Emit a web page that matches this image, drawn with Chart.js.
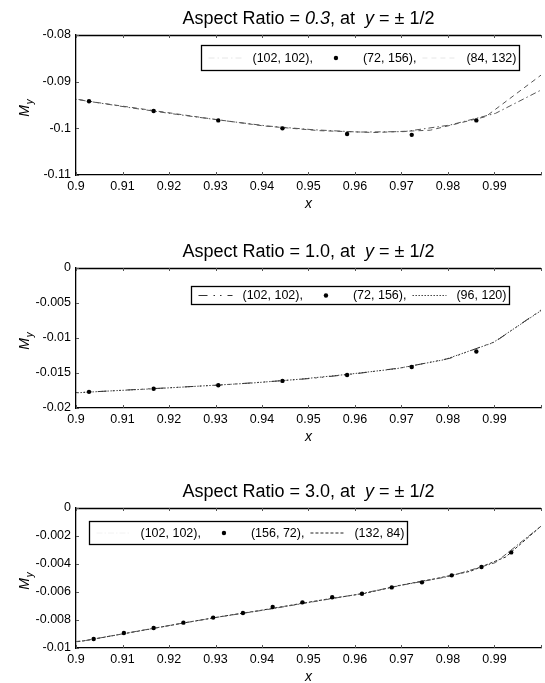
<!DOCTYPE html>
<html>
<head>
<meta charset="utf-8">
<script src="https://cdn.jsdelivr.net/npm/chart.js@4.4.1/dist/chart.umd.min.js"></script>
<style>
  html, body { margin: 0; padding: 0; background: #fff; overflow: hidden; }
  #wrap { position: relative; width: 545px; height: 683px; }
  canvas { position: absolute; left: 0; }
</style>
</head>
<body>
<div id="wrap">
  <canvas id="c1" width="545" height="214" style="top:0px"></canvas>
  <canvas id="c2" width="545" height="214" style="top:233px"></canvas>
  <canvas id="c3" width="545" height="214" style="top:473px"></canvas>
</div>
<script>
/* ---- shared axis data ---- */
const xTicks = [0.9, 0.91, 0.92, 0.93, 0.94, 0.95, 0.96, 0.97, 0.98, 0.99, 1.0];
const xTickLabels = ['0.9', '0.91', '0.92', '0.93', '0.94', '0.95', '0.96', '0.97', '0.98', '0.99', ''];

/* ---- panel 1: aspect ratio 0.3 ---- */
const title1 = [['Aspect Ratio = ', 'normal'], ['0.3', 'italic'], [', at  ', 'normal'], ['y', 'italic'], [' = \u00b1 1/2', 'normal']];
const yTicks1 = [-0.11, -0.1, -0.09, -0.08];
const yTickLabels1 = ['-0.11', '-0.1', '-0.09', '-0.08'];
const labels1 = ['(102, 102),', '(72, 156),', '(84, 132)'];
const p1xA = [0.8922, 0.9020, 0.9118, 0.9216, 0.9314, 0.9412, 0.9510, 0.9608, 0.9706, 0.9804, 0.9902, 1.0];
const p1yA = [-0.0925, -0.0941, -0.0956, -0.0970, -0.0983, -0.0995, -0.1003, -0.1008, -0.1007, -0.0993, -0.0968, -0.0918];
const p1xB = [0.9028, 0.9167, 0.9306, 0.9444, 0.9583, 0.9722, 0.9861];
const p1yB = [-0.0942, -0.0963, -0.0983, -0.1000, -0.1012, -0.1014, -0.0983];
const p1xC = [0.8929, 0.9048, 0.9167, 0.9286, 0.9405, 0.9524, 0.9643, 0.9762, 0.9881, 1.0];
const p1yC = [-0.0926, -0.0945, -0.0962, -0.0979, -0.0995, -0.1005, -0.1009, -0.1004, -0.0975, -0.0886];

/* ---- panel 2: aspect ratio 1.0 ---- */
const title2 = [['Aspect Ratio = 1.0, at  ', 'normal'], ['y', 'italic'], [' = \u00b1 1/2', 'normal']];
const yTicks2 = [-0.02, -0.015, -0.01, -0.005, 0];
const yTickLabels2 = ['-0.02', '-0.015', '-0.01', '-0.005', '0'];
const labels2 = ['(102, 102),', '(72, 156),', '(96, 120)'];
const p2xA = [0.8922, 0.9020, 0.9118, 0.9216, 0.9314, 0.9412, 0.9510, 0.9608, 0.9706, 0.9804, 0.9902, 1.0];
const p2yA = [-0.0180, -0.01775, -0.0174, -0.01705, -0.0167, -0.01625, -0.01575, -0.01505, -0.0142, -0.0129, -0.0105, -0.0060];
const p2xB = [0.9028, 0.9167, 0.9306, 0.9444, 0.9583, 0.9722, 0.9861];
const p2yB = [-0.01769, -0.01726, -0.01675, -0.01613, -0.01528, -0.01415, -0.01193];
const p2xC = [0.8958, 0.90625, 0.9167, 0.9271, 0.9375, 0.9479, 0.9583, 0.96875, 0.9792, 0.9896, 1.0];
const p2yC = [-0.0180, -0.0176, -0.01725, -0.01685, -0.01645, -0.0159, -0.0152, -0.0144, -0.0131, -0.0107, -0.0061];

/* ---- panel 3: aspect ratio 3.0 ---- */
const title3 = [['Aspect Ratio = 3.0, at  ', 'normal'], ['y', 'italic'], [' = \u00b1 1/2', 'normal']];
const yTicks3 = [-0.01, -0.008, -0.006, -0.004, -0.002, 0];
const yTickLabels3 = ['-0.01', '-0.008', '-0.006', '-0.004', '-0.002', '0'];
const labels3 = ['(102, 102),', '(156, 72),', '(132, 84)'];
const p3xA = [0.8922, 0.9020, 0.9118, 0.9216, 0.9314, 0.9412, 0.9510, 0.9608, 0.9706, 0.9804, 0.9902, 1.0];
const p3yA = [-0.0098, -0.00947, -0.00888, -0.0083, -0.00775, -0.00725, -0.0067, -0.00615, -0.00548, -0.00488, -0.0039, -0.0013];
const p3xB = [0.9038, 0.9103, 0.9167, 0.9231, 0.9295, 0.9359, 0.9423, 0.9487, 0.9551, 0.9615, 0.9679, 0.9744, 0.9808, 0.9872, 0.9936];
const p3yB = [-0.00936, -0.00893, -0.00857, -0.00819, -0.00783, -0.0075, -0.00707, -0.00674, -0.00638, -0.00612, -0.00567, -0.00531, -0.00481, -0.00421, -0.00317];
const p3xC = [0.8939, 0.9015, 0.9091, 0.9167, 0.9242, 0.9318, 0.9394, 0.9470, 0.9545, 0.9621, 0.9697, 0.9773, 0.9848, 0.9924, 1.0];
const p3yC = [-0.0098, -0.0095, -0.00905, -0.0086, -0.00815, -0.00772, -0.00733, -0.0069, -0.00648, -0.0061, -0.00552, -0.00505, -0.00452, -0.0035, -0.0013];

/* ---- drawing helpers ---- */
const FONT = "'Liberation Sans', Arial, Helvetica, sans-serif";
const LEG = { padL: 5, sample: 38, gap: 8, trail: 4, padR: 3, font: 12.5 };

const pts = (xs, ys) => xs.map((x, i) => ({ x, y: ys[i] }));

function lineSet(label, xs, ys, color, dash, sampleColor) {
  return {
    label, data: pts(xs, ys), showLine: true, borderColor: color, borderWidth: 1,
    borderDash: dash, pointRadius: 0, order: 1, sampleColor,
  };
}

function dotSet(label, xs, ys) {
  return {
    label, data: pts(xs, ys), showLine: false, pointRadius: 2.2,
    pointBackgroundColor: '#000', pointBorderWidth: 0, order: 0,
  };
}

function drawTitle(chart, segs) {
  const { ctx, chartArea: a } = chart;
  ctx.save();
  ctx.fillStyle = '#000';
  ctx.textBaseline = 'alphabetic';
  ctx.textAlign = 'left';
  const widths = segs.map(([t, st]) => { ctx.font = `${st} 18px ${FONT}`; return ctx.measureText(t).width; });
  const total = widths.reduce((s, w) => s + w, 0);
  let cx = (a.left + a.right) / 2 - total / 2;
  segs.forEach(([t, st], i) => {
    ctx.font = `${st} 18px ${FONT}`;
    ctx.fillText(t, cx, a.top - 11);
    cx += widths[i];
  });
  ctx.restore();
}

function drawYLabel(chart) {
  const { ctx, chartArea: a } = chart;
  ctx.save();
  ctx.translate(28.5, (a.top + a.bottom) / 2 + 3);
  ctx.rotate(-Math.PI / 2);
  ctx.fillStyle = '#000';
  ctx.textBaseline = 'alphabetic';
  ctx.font = `italic 14px ${FONT}`;
  const wM = ctx.measureText('M').width;
  ctx.font = `italic 10px ${FONT}`;
  const wy = ctx.measureText('y').width;
  const sx = -(wM + 1 + wy) / 2;
  ctx.font = `italic 14px ${FONT}`;
  ctx.fillText('M', sx, 0);
  ctx.font = `italic 10px ${FONT}`;
  ctx.fillText('y', sx + wM + 1, 4);
  ctx.restore();
}

function drawLegend(chart, box) {
  const { ctx, scales: { x, y } } = chart;
  const left = Math.round(x.getPixelForValue(box.x)) + 0.5;
  const top = Math.round(y.getPixelForValue(box.top)) + 0.5;
  const bottom = Math.round(y.getPixelForValue(box.bottom)) + 0.5;
  ctx.save();
  ctx.font = `${LEG.font}px ${FONT}`;
  const items = chart.data.datasets.map(ds => ({ ds, w: ctx.measureText(ds.label).width }));
  const width = LEG.padL + LEG.padR + LEG.trail * (items.length - 1) +
    items.reduce((s, it) => s + LEG.sample + LEG.gap + it.w, 0);
  ctx.fillStyle = '#fff';
  ctx.fillRect(left, top, width, bottom - top);
  ctx.strokeStyle = '#000';
  ctx.lineWidth = 1.3;
  ctx.strokeRect(left, top, width, bottom - top);
  const cy = (top + bottom) / 2;
  let cx = left + LEG.padL;
  items.forEach(({ ds, w }) => {
    if (ds.showLine) {
      ctx.strokeStyle = ds.sampleColor || ds.borderColor;
      ctx.lineWidth = ds.borderWidth;
      ctx.setLineDash(ds.borderDash || []);
      ctx.beginPath();
      ctx.moveTo(cx + 2, cy);
      ctx.lineTo(cx + LEG.sample - 2, cy);
      ctx.stroke();
      ctx.setLineDash([]);
    } else {
      ctx.fillStyle = '#000';
      ctx.beginPath();
      ctx.arc(cx + LEG.sample / 2, cy, ds.pointRadius, 0, 2 * Math.PI);
      ctx.fill();
    }
    cx += LEG.sample + LEG.gap;
    ctx.fillStyle = '#000';
    ctx.textBaseline = 'middle';
    ctx.fillText(ds.label, cx, cy + 0.5);
    cx += w + LEG.trail;
  });
  ctx.restore();
}

function framePlugin(cfg) {
  return {
    id: 'frame',
    beforeDatasetsDraw(chart) {
      const { ctx, chartArea: a, scales: { x, y } } = chart;
      ctx.save();
      ctx.strokeStyle = '#000';
      ctx.lineWidth = 1.3;
      ctx.beginPath();
      ctx.moveTo(a.left, a.top + 0.5);
      ctx.lineTo(a.right, a.top + 0.5);
      ctx.stroke();
      // matlab style inward ticks
      ctx.strokeStyle = '#555';
      ctx.lineWidth = 1;
      ctx.beginPath();
      x.ticks.forEach(t => {
        const px = Math.round(x.getPixelForValue(t.value)) + 0.5;
        ctx.moveTo(px, a.bottom); ctx.lineTo(px, a.bottom - 3);
        ctx.moveTo(px, a.top); ctx.lineTo(px, a.top + 3);
      });
      y.ticks.forEach(t => {
        const py = Math.round(y.getPixelForValue(t.value)) + 0.5;
        ctx.moveTo(a.left, py); ctx.lineTo(a.left + 3, py);
      });
      ctx.stroke();
      ctx.restore();
    },
    afterDatasetsDraw(chart) { drawLegend(chart, cfg.box); },
    afterDraw(chart) { drawTitle(chart, cfg.title); drawYLabel(chart); },
  };
}

function buildPanel(id, cfg) {
  const tickFont = { family: FONT, size: 12.5 };
  return new Chart(document.getElementById(id), {
    type: 'scatter',
    data: { datasets: cfg.datasets },
    options: {
      responsive: false,
      animation: false,
      events: [],
      layout: { padding: { top: 35, left: 0, right: 0, bottom: 0 } },
      plugins: { legend: { display: false }, tooltip: { enabled: false } },
      scales: {
        x: {
          type: 'linear', min: 0.9, max: 1.0,
          afterBuildTicks: s => { s.ticks = xTicks.map(v => ({ value: v })); },
          afterFit: s => { s.height = 39; },
          grid: { display: false, drawTicks: false },
          border: { display: true, color: '#000', width: 1.3 },
          ticks: {
            autoSkip: false, maxRotation: 0, padding: 4, color: '#000', font: tickFont,
            callback: (v, i) => xTickLabels[i],
          },
          title: {
            display: true, text: 'x', color: '#000',
            font: { family: FONT, size: 14, style: 'italic' }, padding: { top: 0, bottom: 1 },
          },
        },
        y: {
          type: 'linear', min: cfg.yTicks[0], max: cfg.yTicks[cfg.yTicks.length - 1],
          afterBuildTicks: s => { s.ticks = cfg.yTicks.map(v => ({ value: v })); },
          afterFit: s => { s.width = 76; },
          grid: { display: false, drawTicks: false },
          border: { display: true, color: '#000', width: 1.3 },
          ticks: {
            autoSkip: false, padding: 5, color: '#000', font: tickFont,
            callback: (v, i) => cfg.yTickLabels[i],
          },
        },
      },
    },
    plugins: [framePlugin(cfg)],
  });
}

buildPanel('c1', {
  title: title1, yTicks: yTicks1, yTickLabels: yTickLabels1,
  box: { x: 0.9269, top: -0.0821, bottom: -0.0876 },
  datasets: [
    lineSet(labels1[0], p1xA, p1yA, '#555', [6, 3, 1.5, 3], '#e6e6e6'),
    dotSet(labels1[1], p1xB, p1yB),
    lineSet(labels1[2], p1xC, p1yC, '#555', [5, 4], '#e6e6e6'),
  ],
});

buildPanel('c2', {
  title: title2, yTicks: yTicks2, yTickLabels: yTickLabels2,
  box: { x: 0.9247, top: -0.0026, bottom: -0.0051 },
  datasets: [
    lineSet(labels2[0], p2xA, p2yA, '#333', [9, 6, 1.5, 5, 1.5, 6]),
    dotSet(labels2[1], p2xB, p2yB),
    lineSet(labels2[2], p2xC, p2yC, '#444', [1.5, 1.5]),
  ],
});

buildPanel('c3', {
  title: title3, yTicks: yTicks3, yTickLabels: yTickLabels3,
  box: { x: 0.9028, top: -0.0009, bottom: -0.0026 },
  datasets: [
    lineSet(labels3[0], p3xA, p3yA, '#555', [6, 2, 1.5, 2], '#f2f2f2'),
    dotSet(labels3[1], p3xB, p3yB),
    lineSet(labels3[2], p3xC, p3yC, '#222', [3, 2]),
  ],
});
</script>
</body>
</html>
